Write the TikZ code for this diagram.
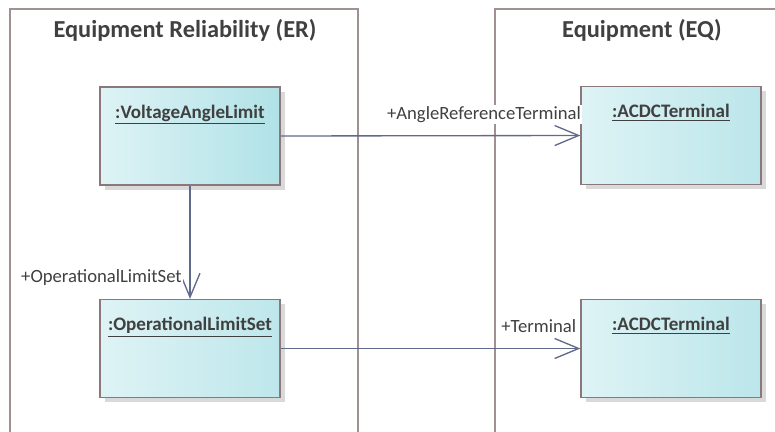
\documentclass[tikz,border=0pt]{standalone}
\usepackage{fontspec}
\setmainfont{Carlito}
\usetikzlibrary{arrows.meta,shadows}
\definecolor{frameEA}{RGB}{160,144,144}
\definecolor{borderEA}{RGB}{140,120,120}
\definecolor{lineEA}{RGB}{96,106,138}
\definecolor{textEA}{RGB}{64,64,64}
\definecolor{fillL}{RGB}{222,243,245}
\definecolor{fillR}{RGB}{176,226,231}

\begin{document}
\begin{tikzpicture}[
        x=0.75pt, y=-0.75pt,
        pkgframe/.style={draw=frameEA, line width=0.8pt},
        pkgtitle/.style={font=\bfseries\fontsize{18.3}{22}\selectfont, text=textEA},
        objbox/.style={draw=borderEA, line width=0.9pt, left color=fillL, right color=#1,
                       minimum width=135pt, minimum height=73.5pt, inner sep=0pt,
                       drop shadow={shadow xshift=3.5pt, shadow yshift=-3.5pt,
                                    fill=black!15, opacity=1}},
        objname/.style={font=\bfseries\fontsize{14.3}{17}\selectfont, text=textEA},
        assoc/.style={draw=lineEA, line width=1pt,
                      -{Straight Barb[length=18pt, width=15pt, line width=1pt]}},
        rolelabel/.style={font=\fontsize{14}{17}\selectfont, text=textEA,
                          fill=white, inner sep=1pt}
    ]
        \useasboundingbox (0,0) rectangle (775,432);
        \clip (0,0) rectangle (775,432);
        % package frames
        \draw[pkgframe] (10,440) |- (358,9) -- (358,440);
        \draw[pkgframe] (495,440) |- (780,9);
        \node[pkgtitle, anchor=base] (titleER) at (185,37) {Equipment Reliability (ER)};
        \node[pkgtitle, anchor=base] (titleEQ) at (642,37) {Equipment (EQ)};
        % objects
        \node[objbox=fillR] (val) at (190,136) {};
        \node[objbox=fillR!70!fillL] (ols) at (190,348.5) {};
        \node[objbox=fillR!75!fillL] (acdcA) at (671,135.5) {};
        \node[objbox=fillR!75!fillL] (acdcB) at (671,348.5) {};
        \node[objname, anchor=base] (valname) at ([yshift=-24pt]val.north) {\underline{:VoltageAngleLimit}};
        \node[objname, anchor=base] (olsname) at ([yshift=-24pt]ols.north) {\underline{:OperationalLimitSet}};
        \node[objname, anchor=base] (acdcAname) at ([yshift=-24pt]acdcA.north) {\underline{:ACDCTerminal}};
        \node[objname, anchor=base] (acdcBname) at ([yshift=-24pt]acdcB.north) {\underline{:ACDCTerminal}};
        % associations
        \draw[assoc] (val.east) -- (acdcA.west);
        \draw[assoc] (ols.east) -- (acdcB.west);
        \draw[assoc] (val.south) -- (ols.north);
        \node[rolelabel, anchor=base east] (refrole) at ([xshift=1.5pt, yshift=12pt]acdcA.west) {+AngleReferenceTerminal};
        \node[rolelabel, anchor=base east] (termrole) at ([xshift=-2pt, yshift=12pt]acdcB.west) {+Terminal};
        \node[rolelabel, anchor=base east] (olsrole) at ([xshift=-5pt, yshift=12pt]ols.north) {+OperationalLimitSet};
    \end{tikzpicture}
\end{document}
